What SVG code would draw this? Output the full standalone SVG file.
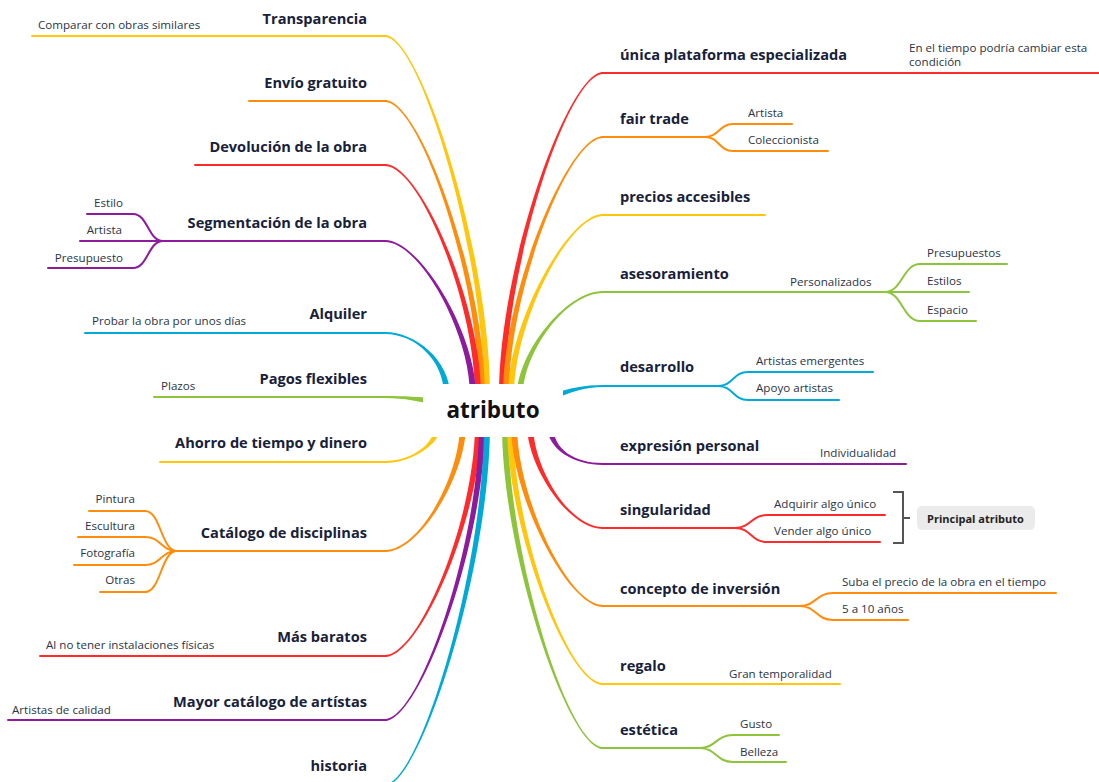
<svg xmlns="http://www.w3.org/2000/svg" width="1099" height="782" viewBox="0 0 1099 782">
<style>
text{font-family:"Open Sans","Noto Sans","Liberation Sans",sans-serif}
.m{font-size:14.6px;font-weight:700;fill:#17213a}
.s{font-size:11.6px;fill:#2b3446}
.r{text-anchor:end}
.ln{fill:none;stroke-width:2;stroke-linecap:round}
.fy{fill:#FFC60B}.fo{fill:#FF8C0A}.fr{fill:#FF2A2A}.fp{fill:#8E1A9C}.fb{fill:#00AAD6}.fg{fill:#8DC43A}
.y{stroke:#FFC60B}.o{stroke:#FF8C0A}.rd{stroke:#FF2A2A}.p{stroke:#8E1A9C}.b{stroke:#00AAD6}.g{stroke:#8DC43A}
</style>
<rect width="1099" height="782" fill="#fff"/>
<g id="connectors">
<path class="fy" d="M385,35 C420,35 490,251 490,395 L484,395 C484,251 420,37 385,37Z"/>
<path class="fo" d="M385,100 C420,100 485,277 485,395 L479,395 C479,277 420,102 385,102Z"/>
<path class="fr" d="M385,164 C420,164 481,303 481,395 L475,395 C475,303 420,166 385,166Z"/>
<path class="fp" d="M385,240 C420,240 476,333 476,395 L470,395 C470,333 420,242 385,242Z"/>
<path class="fb" d="M385,332 C415,332 450,360 450,395 L444,395 C444,360 415,334 385,334Z"/>
<path class="fg" d="M385,396 C405,396 420,397 432,398 L432,404 C420,402 405,398 385,398Z"/>
<path class="fy" d="M385,461 C410,461 435,445 435,425 L441,425 C441,445 410,463 385,463Z"/>
<path class="fo" d="M385,550 C420,550 460,475 460,425 L466,425 C466,475 420,552 385,552Z"/>
<path class="fr" d="M385,655 C420,655 475,517 475,425 L481,425 C481,517 420,657 385,657Z"/>
<path class="fp" d="M385,719 C420,719 479,543 479,425 L485,425 C485,543 420,721 385,721Z"/>
<path class="fb" d="M385,784 C420,784 484,569 484,425 L490,425 C490,569 420,786 385,786Z"/>
<path class="fr" d="M603,72 C568,72 499,266 499,395 L505,395 C505,266 568,74 603,74Z"/>
<path class="fo" d="M603,136 C568,136 503,292 503,395 L509,395 C509,292 568,138 603,138Z"/>
<path class="fy" d="M603,214 C568,214 508,323 508,395 L514,395 C514,323 568,216 603,216Z"/>
<path class="fg" d="M603,291 C565,291 517,354 517,395 L523,395 C523,354 565,293 603,293Z"/>
<path class="fb" d="M603,385 C585,385 570,388 555,393 L555,399 C570,392 585,387 603,387Z"/>
<path class="fp" d="M603,463 C575,463 553,450 553,425 L547,425 C547,450 575,465 603,465Z"/>
<path class="fr" d="M603,527 C568,527 533,466 533,425 L527,425 C527,466 568,529 603,529Z"/>
<path class="fg" d="M603,747 C568,747 508,554 508,425 L502,425 C502,554 568,749 603,749Z"/>
<path class="fy" d="M603,683 C568,683 513,529 513,425 L507,425 C507,529 568,685 603,685Z"/>
<path class="fo" d="M603,605 C568,605 517,497 517,425 L511,425 C511,497 568,607 603,607Z"/>
<path class="ln y" d="M32,36 H386"/>
<path class="ln o" d="M249,101 H386"/>
<path class="ln rd" d="M195,165 H386"/>
<path class="ln p" d="M80,241 H386 M87,214 H133 C148,214 148,241 163,241 M48,268 H133 C148,268 148,241 163,241"/>
<path class="ln b" d="M85,333 H386"/>
<path class="ln g" d="M154,397 H386"/>
<path class="ln y" d="M160,462 H386"/>
<path class="ln o" d="M177,551 H386 M89,511 H145 C161,511 161,551 177,551 M78,537 H145 C161,537 161,551 177,551 M74,565 H145 C161,565 161,551 177,551 M100,592 H145 C161,592 161,551 177,551"/>
<path class="ln rd" d="M40,656 H386"/>
<path class="ln p" d="M8,720 H386"/>
<path class="ln b" d="M300,785 H386"/>
<path class="ln rd" d="M602,73 H1099"/>
<path class="ln o" d="M602,137 H705 M705,137 C719,137 719,124 733,124 H792 M705,137 C719,137 719,151 733,151 H828"/>
<path class="ln y" d="M602,215 H765"/>
<path class="ln g" d="M602,292 H969 M885,292 C902,292 903,264 920,264 H1007 M885,292 C902,292 903,321 920,321 H976"/>
<path class="ln b" d="M602,386 H718 M718,386 C733,386 733,372 748,372 H873 M718,386 C733,386 733,400 748,400 H839"/>
<path class="ln p" d="M602,464 H906"/>
<path class="ln rd" d="M602,528 H735 M735,528 C751,528 751,515 767,515 H885 M735,528 C751,528 751,542 767,542 H880"/>
<path class="ln o" d="M602,606 H800 M800,606 C816,606 816,593 833,593 H1056 M800,606 C816,606 816,620 833,620 H908"/>
<path class="ln y" d="M602,684 H840"/>
<path class="ln g" d="M602,748 H700 M700,748 C716,748 716,735 733,735 H779 M700,748 C716,748 716,762 733,762 H786"/>
<path d="M893,492 H903 V543 H893 M903,518 H910" fill="none" stroke="#555" stroke-width="2"/>
</g>
<g id="root">
<rect x="423" y="384" width="140" height="53" fill="#fff"/>
<text x="493" y="418" text-anchor="middle" style="font-size:22.5px;font-weight:700;fill:#111">atributo</text>
</g>
<g id="n-transparencia"><text class="m r" x="367" y="24">Transparencia</text><text class="s" x="38" y="29">Comparar con obras similares</text></g>
<g id="n-envio"><text class="m r" x="367" y="88">Envío gratuito</text></g>
<g id="n-devolucion"><text class="m r" x="367" y="152">Devolución de la obra</text></g>
<g id="n-segmentacion"><text class="m r" x="367" y="228">Segmentación de la obra</text><text class="s r" x="123" y="207">Estilo</text><text class="s r" x="122" y="234">Artista</text><text class="s r" x="123" y="262">Presupuesto</text></g>
<g id="n-alquiler"><text class="m r" x="367" y="319">Alquiler</text><text class="s" x="92" y="325">Probar la obra por unos días</text></g>
<g id="n-pagos"><text class="m r" x="367" y="384">Pagos flexibles</text><text class="s" x="161" y="390">Plazos</text></g>
<g id="n-ahorro"><text class="m r" x="367" y="448">Ahorro de tiempo y dinero</text></g>
<g id="n-catalogo"><text class="m r" x="367" y="538">Catálogo de disciplinas</text><text class="s r" x="135" y="503">Pintura</text><text class="s r" x="135" y="530">Escultura</text><text class="s r" x="135" y="557">Fotografía</text><text class="s r" x="135" y="584">Otras</text></g>
<g id="n-baratos"><text class="m r" x="367" y="642">Más baratos</text><text class="s" x="46" y="649">Al no tener instalaciones físicas</text></g>
<g id="n-mayor"><text class="m r" x="367" y="707">Mayor catálogo de artístas</text><text class="s" x="12" y="714">Artistas de calidad</text></g>
<g id="n-historia"><text class="m r" x="367" y="771">historia</text></g>
<g id="n-unica"><text class="m" x="620" y="60">única plataforma especializada</text><text class="s" x="909" y="52">En el tiempo podría cambiar esta</text><text class="s" x="909" y="66">condición</text></g>
<g id="n-fair"><text class="m" x="620" y="124">fair trade</text><text class="s" x="748" y="117">Artista</text><text class="s" x="748" y="144">Coleccionista</text></g>
<g id="n-precios"><text class="m" x="620" y="202">precios accesibles</text></g>
<g id="n-asesoramiento"><text class="m" x="620" y="279">asesoramiento</text><text class="s" x="790" y="286">Personalizados</text><text class="s" x="927" y="257">Presupuestos</text><text class="s" x="927" y="285">Estilos</text><text class="s" x="927" y="314">Espacio</text></g>
<g id="n-desarrollo"><text class="m" x="620" y="372">desarrollo</text><text class="s" x="756" y="365">Artistas emergentes</text><text class="s" x="756" y="392">Apoyo artistas</text></g>
<g id="n-expresion"><text class="m" x="620" y="451">expresión personal</text><text class="s" x="820" y="457">Individualidad</text></g>
<g id="n-singularidad"><text class="m" x="620" y="515">singularidad</text><text class="s" x="774" y="508">Adquirir algo único</text><text class="s" x="774" y="535">Vender algo único</text></g>
<g id="n-principal"><rect x="917" y="506" width="118" height="24" rx="5" fill="#ebebeb"/><text x="927" y="523" style="font-size:11px;font-weight:700;fill:#222">Principal atributo</text></g>
<g id="n-concepto"><text class="m" x="620" y="594">concepto de inversión</text><text class="s" x="842" y="586">Suba el precio de la obra en el tiempo</text><text class="s" x="842" y="613">5 a 10 años</text></g>
<g id="n-regalo"><text class="m" x="620" y="671">regalo</text><text class="s" x="729" y="678">Gran temporalidad</text></g>
<g id="n-estetica"><text class="m" x="620" y="735">estética</text><text class="s" x="740" y="728">Gusto</text><text class="s" x="740" y="756">Belleza</text></g>
</svg>
